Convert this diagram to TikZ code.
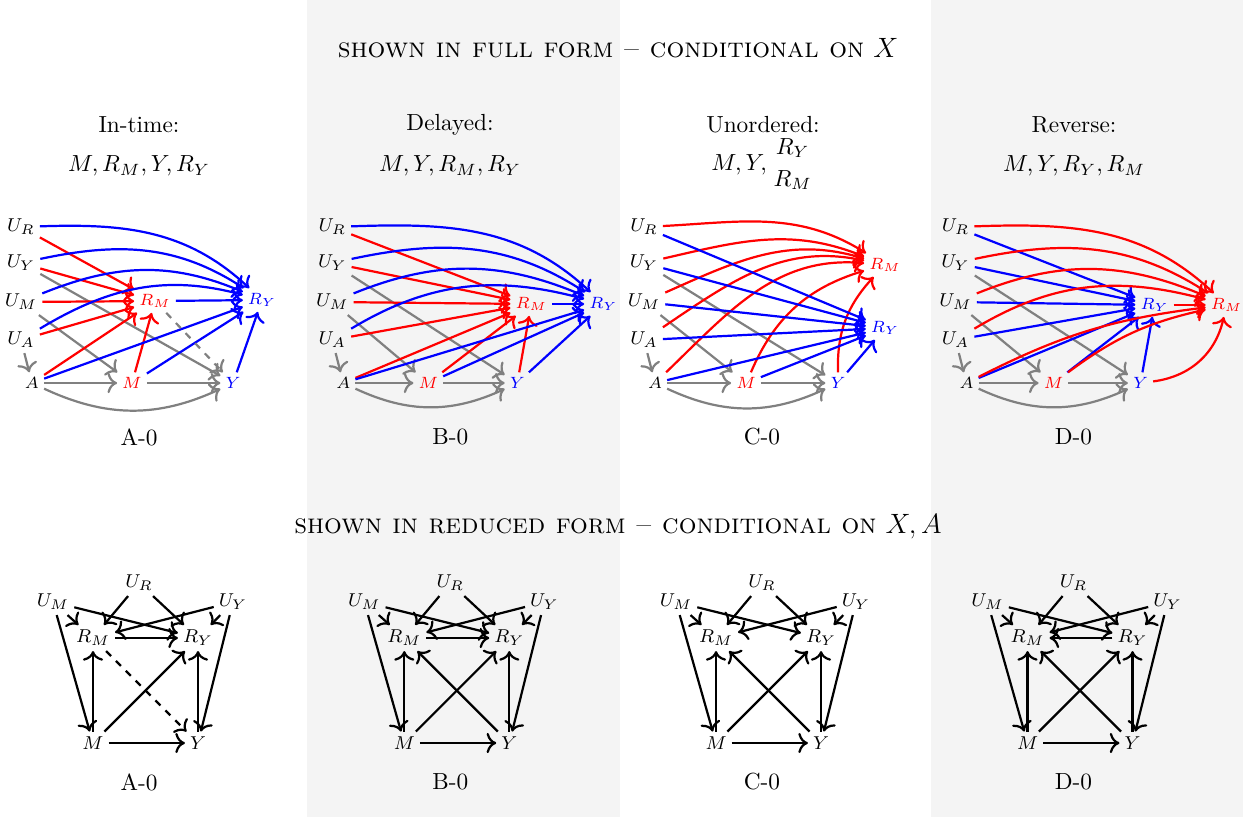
\documentclass[tikz,border=0pt]{standalone}
\usepackage{amsmath}
\usetikzlibrary{arrows.meta}
\definecolor{panelgray}{RGB}{244,244,244}
\tikzset{
  ul/.style={font=\footnotesize, inner sep=2pt},
  sl/.style={font=\scriptsize, inner sep=2pt},
  ll/.style={font=\footnotesize, inner sep=2pt},
  arr/.style={line width=0.95pt, -{To[scale=1.12]}},
  rede/.style={draw=red, arr},
  bluee/.style={draw=blue, arr},
  graye/.style={draw=gray, arr},
  blke/.style={draw=black, arr},
}
\newcommand{\UpperPanel}[7]{%
  \node[ul] (#1UR) at (21,-227) {$U_R$};
  \node[ul] (#1UY) at (21,-263) {$U_Y$};
  \node[ul] (#1UM) at (21,-302) {$U_M$};
  \node[ul] (#1UA) at (21,-340) {$U_A$};
  \node[sl] (#1A) at (32,-383) {$A$};
  \node[sl,text=red] (#1M) at (#2,-383) {$M$};
  \node[sl,text=blue] (#1Y) at (#3,-383) {$Y$};
  \node[sl,text=red] (#1RM) at (#4,-#5) {$R_M$};
  \node[sl,text=blue] (#1RY) at (#6,-#7) {$R_Y$};
  \draw[graye] (#1UA) -- (#1A);
  \draw[graye] (#1UY) -- (#1Y);
  \draw[graye] (#1UM) -- (#1M);
  \draw[graye] (#1A) -- (#1M);
  \draw[graye] (#1M) -- (#1Y);
  \draw[graye] (#1A) to[bend right=25] (#1Y);
}
\newcommand{\FanCurves}[3]{% #1 prefix, #2 target, #3 style
  \draw[#3] (#1UR) to[out=2,in=137] (#1#2);
  \draw[#3] (#1UY) to[out=12,in=147] (#1#2);
  \draw[#3] (#1UM) to[out=22,in=157] (#1#2);
  \draw[#3] (#1UA) to[out=31,in=165] (#1#2);
}
\newcommand{\LowerPanel}[1]{%
  \node[ll] (#1UR) at (139,-583) {$U_R$};
  \node[ll] (#1UM) at (53,-602) {$U_M$};
  \node[ll] (#1UY) at (233,-602) {$U_Y$};
  \node[ll] (#1RM) at (93,-638) {$R_M$};
  \node[ll] (#1RY) at (198,-638) {$R_Y$};
  \node[ll] (#1M) at (93,-743) {$M$};
  \node[ll] (#1Y) at (198,-743) {$Y$};
  \draw[blke] (#1UR) -- (#1RM);
  \draw[blke] (#1UR) -- (#1RY);
  \draw[blke] (#1UM) -- (#1RM);
  \draw[blke] (#1UM) -- (#1RY);
  \draw[blke] (#1UM) -- (#1M);
  \draw[blke] (#1UY) -- (#1RY);
  \draw[blke] (#1UY) -- (#1RM);
  \draw[blke] (#1UY) -- (#1Y);
  \draw[blke] (#1M) -- (#1RM);
  \draw[blke] (#1Y) -- (#1RY);
  \draw[blke] (#1M) -- (#1RY);
  \draw[blke] (#1M) -- (#1Y);
}
\begin{document}
\begin{tikzpicture}[x=0.4292pt,y=0.4292pt]
\useasboundingbox (0,0) rectangle (1250,-817);
\fill[panelgray] (307,0) rectangle (620,-817);
\fill[panelgray] (931,0) rectangle (1243,-817);

\node[font=\large] (t1) at (618,-48) {\textsc{shown in full form -- conditional on} $X$};
\node[font=\large] (t2) at (618,-527) {\textsc{shown in reduced form -- conditional on} $X, A$};

\node (h1) at (139,-125) {In-time:};
\node (m1) at (139,-166) {$M, R_M, Y, R_Y$};
\node (h2) at (450,-125) {Delayed:};
\node (m2) at (450,-166) {$M, Y, R_M, R_Y$};
\node (h3) at (763,-125) {Unordered:};
\node (m3) at (763,-164) {$M, Y, \genfrac{}{}{0pt}{0}{R_Y}{R_M}$};
\node (h4) at (1074,-125) {Reverse:};
\node (m4) at (1074,-166) {$M, Y, R_Y, R_M$};

% ---------- Panel A (in-time)
\begin{scope}[shift={(0,0)}]
\UpperPanel{a}{132}{233}{155}{301}{262}{300}
\foreach \s in {UR,UY,UM,UA,A,M} \draw[rede] (a\s) -- (aRM);
\FanCurves{a}{RY}{bluee}
\foreach \s in {A,M,Y,RM} \draw[bluee] (a\s) -- (aRY);
\draw[graye,dashed] (aRM) -- (aY);
\node (capa) at (139,-437) {A-0};
\LowerPanel{la}
\draw[blke] (laRM) -- (laRY);
\draw[blke,dashed] (laRM) -- (laY);
\node (lcapa) at (139,-782) {A-0};
\end{scope}

% ---------- Panel B (delayed)
\begin{scope}[shift={(311.3,0)}]
\UpperPanel{b}{117}{206}{220}{304}{292}{304}
\foreach \s in {UR,UY,UM,UA,A,M,Y} \draw[rede] (b\s) -- (bRM);
\FanCurves{b}{RY}{bluee}
\foreach \s in {A,M,Y,RM} \draw[bluee] (b\s) -- (bRY);
\node (capb) at (139,-437) {B-0};
\LowerPanel{lb}
\draw[blke] (lbRM) -- (lbRY);
\draw[blke] (lbY) -- (lbRM);
\node (lcapb) at (139,-782) {B-0};
\end{scope}

% ---------- Panel C (unordered)
\begin{scope}[shift={(623,0)}]
\UpperPanel{c}{123}{215}{262}{265}{262}{328}
\draw[rede] (cUR) to[out=3,in=148] (cRM);
\draw[rede] (cUY) to[out=13,in=158] (cRM);
\draw[rede] (cUM) to[out=24,in=163] (cRM);
\draw[rede] (cUA) to[out=34,in=168] (cRM);
\draw[rede] (cA) to[out=44,in=175] (cRM);
\draw[rede] (cM) to[bend left=25] (cRM);
\draw[rede] (cY) to[bend left=22] (cRM);
\foreach \s in {UR,UY,UM,UA,A,M,Y} \draw[bluee] (c\s) -- (cRY);
\node (capc) at (139,-437) {C-0};
\LowerPanel{lc}
\draw[blke] (lcY) -- (lcRM);
\node (lcapc) at (139,-782) {C-0};
\end{scope}

% ---------- Panel D (reverse)
\begin{scope}[shift={(934.5,0)}]
\UpperPanel{d}{119}{206}{292}{305}{220}{305}
\foreach \s in {UR,UY,UM,UA,A,M,Y} \draw[bluee] (d\s) -- (dRY);
\FanCurves{d}{RM}{rede}
\draw[rede] (dA) to[bend left=10] (dRM);
\draw[rede] (dM) to[bend left=12] (dRM);
\draw[rede] (dY) to[bend right=35] (dRM);
\draw[rede] (dRY) -- (dRM);
\node (capd) at (139,-437) {D-0};
\LowerPanel{ld}
\draw[blke] (ldRY) -- (ldRM);
\draw[blke] (ldY) -- (ldRM);
\node (lcapd) at (139,-782) {D-0};
\end{scope}
\end{tikzpicture}
\end{document}
